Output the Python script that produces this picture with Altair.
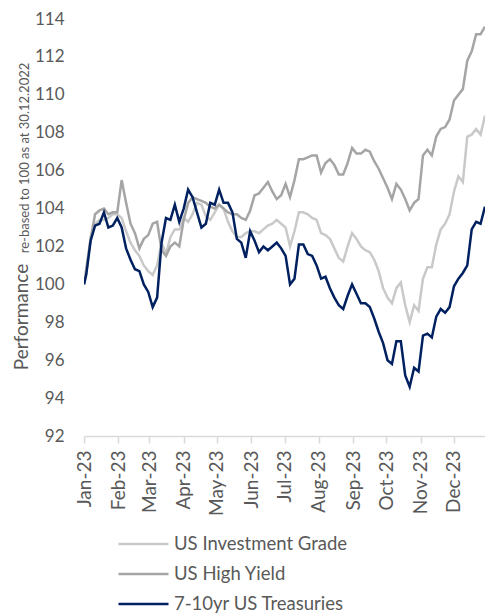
import altair as alt
import pandas as pd

series_names = ["US Investment Grade", "US High Yield", "7-10yr US Treasuries"]
series_colors = ["#c9c9c9", "#a5a5a5", "#002060"]

start_date = "2023-01-01"
start_value = 100.0
grid_dates = pd.date_range(end="2023-12-29", periods=91, freq="4D")

ig = [100.6, 102.5, 103.2, 103.4, 103.4, 103.5, 103.7, 103.7, 103.5, 102.8,
      102.2, 101.8, 101.5, 101.0, 100.7, 100.5, 101.0, 102.2, 101.6, 102.5,
      102.9, 102.9, 103.5, 103.3, 103.7, 104.3, 104.2, 103.6, 103.4, 103.8,
      104.2, 104.0, 103.3, 102.8, 102.5, 102.5, 102.7, 102.8, 102.8, 102.7,
      102.9, 103.1, 103.2, 103.4, 103.2, 103.0, 102.0, 102.8, 103.8, 103.8,
      103.7, 103.5, 103.4, 102.7, 102.6, 102.4, 101.9, 101.4, 101.2, 102.0,
      102.7, 102.4, 102.0, 101.8, 101.7, 101.3, 100.7, 99.8, 99.3, 99.0,
      99.8, 100.1, 98.9, 98.0, 98.9, 98.6, 100.3, 100.9, 100.9, 102.1,
      102.9, 103.2, 103.7, 104.9, 105.7, 105.4, 107.8, 107.9, 108.2, 107.9, 108.9]

hy = [100.8, 102.4, 103.7, 103.9, 104.0, 103.7, 103.8, 103.8, 105.5, 104.3,
      103.2, 102.7, 101.9, 102.4, 102.6, 103.2, 103.3, 101.8, 101.5, 102.0,
      102.2, 102.0, 103.4, 104.3, 104.6, 104.5, 104.4, 104.3, 104.1, 104.0,
      104.2, 104.0, 103.8, 103.7, 103.7, 103.5, 103.4, 103.9, 104.7, 104.8,
      105.1, 105.4, 104.9, 104.5, 104.7, 105.3, 104.6, 105.5, 106.6, 106.6,
      106.7, 106.8, 106.8, 105.9, 106.4, 106.6, 106.3, 105.8, 105.8, 106.4,
      107.2, 106.9, 106.9, 107.1, 107.0, 106.5, 106.1, 105.6, 105.1, 104.5,
      105.3, 105.0, 104.5, 103.9, 104.3, 104.5, 106.8, 107.1, 106.8, 107.8,
      108.2, 108.3, 108.7, 109.7, 110.0, 110.3, 111.8, 112.3, 113.2, 113.2, 113.6]

ust = [100.5, 102.3, 103.1, 103.2, 103.8, 103.0, 103.1, 103.5, 103.0, 101.9,
       101.3, 100.8, 100.7, 100.0, 99.6, 98.8, 99.3, 102.2, 103.5, 103.4,
       104.2, 103.3, 104.0, 105.0, 104.6, 103.8, 103.0, 103.2, 104.3, 104.2,
       105.0, 104.3, 104.3, 103.8, 102.4, 102.2, 101.4, 102.8, 102.3, 101.7,
       102.0, 101.8, 102.0, 102.2, 101.9, 101.5, 100.0, 100.3, 102.1, 102.1,
       101.6, 101.5, 101.0, 100.3, 100.4, 99.8, 99.3, 98.9, 98.7, 99.4,
       100.0, 99.5, 99.0, 99.0, 98.8, 98.2, 97.5, 96.9, 96.0, 95.8,
       97.0, 97.0, 95.2, 94.6, 95.6, 95.4, 97.3, 97.4, 97.2, 98.3,
       98.7, 98.5, 98.8, 99.9, 100.3, 100.6, 101.0, 102.9, 103.3, 103.2, 104.1]

y_ticks = list(range(92, 115, 2))

rows = []
for name, vals in zip(series_names, [ig, hy, ust]):
    rows.append({"date": pd.Timestamp(start_date), "value": start_value, "series": name})
    for d, v in zip(grid_dates, vals):
        rows.append({"date": d, "value": v, "series": name})
df = pd.DataFrame(rows)

FONT = "Lato"
GREY = "#595959"

color = alt.Color(
    "series:N",
    scale=alt.Scale(domain=series_names, range=series_colors),
    legend=alt.Legend(
        title=None, orient="none", legendX=33, legendY=510, direction="vertical",
        symbolType="stroke", symbolSize=2500, symbolStrokeWidth=2.5,
        labelFont=FONT, labelFontSize=18.5, labelColor=GREY, labelOffset=4,
        labelLimit=0, clipHeight=30, rowPadding=0, padding=0,
    ),
)

x = alt.X(
    "date:T",
    scale=alt.Scale(domain=["2023-01-01", "2023-12-29"], nice=False),
    axis=alt.Axis(
        title=None, format="%b-%y", tickCount={"interval": "month", "step": 1},
        labelAngle=270, labelFont=FONT, labelFontSize=19, labelColor=GREY,
        labelPadding=7, tickSize=7, tickColor="#d9d9d9", domainColor="#d9d9d9",
        domainWidth=1.5, tickWidth=1.5, grid=False, labelOverlap=False,
    ),
)
y = alt.Y(
    "value:Q",
    scale=alt.Scale(domain=[92, 114], nice=False, zero=False),
    axis=alt.Axis(
        title=None, values=y_ticks, grid=False, domain=False, ticks=False, tickSize=0,
        labelFont=FONT, labelFontSize=17, labelColor=GREY, labelPadding=20,
    ),
)

base = alt.Chart(df).mark_line(strokeWidth=2.5, clip=True).encode(x=x, y=y, color=color)
lines = [base.transform_filter(alt.datum.series == s) for s in series_names]

title_big = alt.Chart(pd.DataFrame({"t": ["Performance"]})).mark_text(
    angle=270, align="center", baseline="alphabetic", font=FONT, fontSize=19, color=GREY
).encode(text="t:N", x=alt.value(-56), y=alt.value(298))
title_small = alt.Chart(pd.DataFrame({"t": ["re-based to 100 as at 30.12.2022"]})).mark_text(
    angle=270, align="center", baseline="alphabetic", font=FONT, fontSize=13, color=GREY
).encode(text="t:N", x=alt.value(-55), y=alt.value(139))

chart = alt.layer(*lines, title_big, title_small).properties(
    width=401, height=417,
    autosize=alt.AutoSizeParams(type="none"),
    padding={"left": 76, "top": 11, "right": 0, "bottom": 184},
).configure_view(stroke=None)

chart.save("out.html", embed_options={"renderer": "svg", "actions": False})
